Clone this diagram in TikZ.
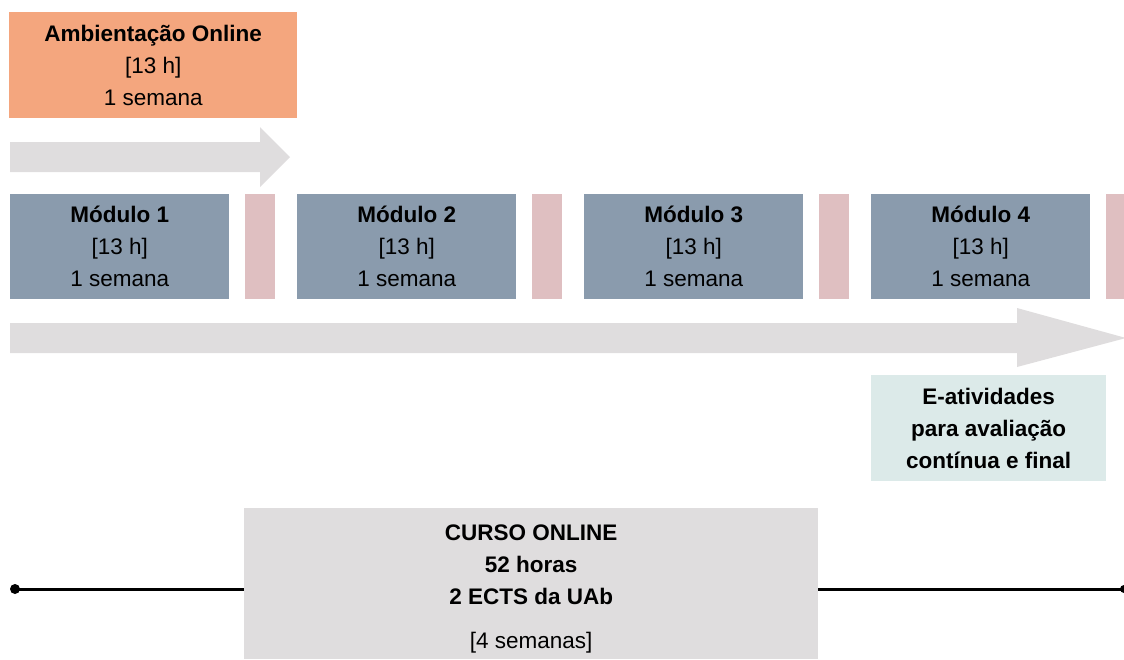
\documentclass[tikz,border=0pt]{standalone}
\usepackage{fontspec}
\setmainfont{Liberation Sans}
\usetikzlibrary{positioning}

\definecolor{ambcolor}{HTML}{F4A67E}
\definecolor{modcolor}{HTML}{8A9BAD}
\definecolor{gapcolor}{HTML}{DFBFC1}
\definecolor{arrowcolor}{HTML}{DFDDDE}
\definecolor{evalcolor}{HTML}{DCEAE9}
\definecolor{coursecolor}{HTML}{DFDDDE}

\begin{document}
\begin{tikzpicture}[x=1pt,y=-1pt,
  txtbox/.style={rectangle,inner sep=0pt,align=center,anchor=north west,
    font=\fontsize{22.5}{32}\selectfont},
  modbox/.style={txtbox,fill=modcolor,minimum width=219pt,minimum height=105pt},
  gapbox/.style={rectangle,inner sep=0pt,anchor=north west,fill=gapcolor,
    minimum width=30pt,minimum height=105pt}]
\useasboundingbox (0,0) rectangle (1124,659);

% The orientation week
\node[txtbox,fill=ambcolor,minimum width=288pt,minimum height=106pt] (amb) at (9,12)
  {\textbf{Ambientação Online}\\{[13 h]}\\1 semana};
\fill[arrowcolor] (10,142) -- (260,142) -- (260,127) -- (290,157) -- (260,187) -- (260,172) -- (10,172) -- cycle;

% The modules
\foreach \i in {1,...,4} {
  \node[modbox] (mod\i) at ({10+287*(\i-1)},194) {\textbf{Módulo \i}\\{[13 h]}\\1 semana};
  \node[gapbox,right=15pt of mod\i.north east,anchor=north west] (gap\i) {};
}

% The time arrow
\fill[arrowcolor] (10,323) -- (1017,323) -- (1017,308) -- (1126,338) -- (1017,367) -- (1017,353) -- (10,353) -- cycle;

% Evaluation
\node[txtbox,fill=evalcolor,minimum width=235pt,minimum height=106pt] (eval) at (871,375)
  {\textbf{E-atividades}\\\textbf{para avaliação}\\\textbf{contínua e final}};

% The course
\node[txtbox,fill=coursecolor,minimum width=574pt,minimum height=151pt] (course) at (244,508)
  {\rule{0pt}{26pt}\textbf{CURSO ONLINE}\\\textbf{52 horas}\\\textbf{2 ECTS da UAb}\\[12pt]{[4 semanas]}};
\coordinate (start) at (15,589);
\coordinate (stop) at (1124,589);
\draw[line width=3pt] (start) -- (start -| course.west);
\draw[line width=3pt] (stop -| course.east) -- (stop);
\fill (start) circle (5pt);
\fill (stop) circle (4pt);

\end{tikzpicture}
\end{document}
